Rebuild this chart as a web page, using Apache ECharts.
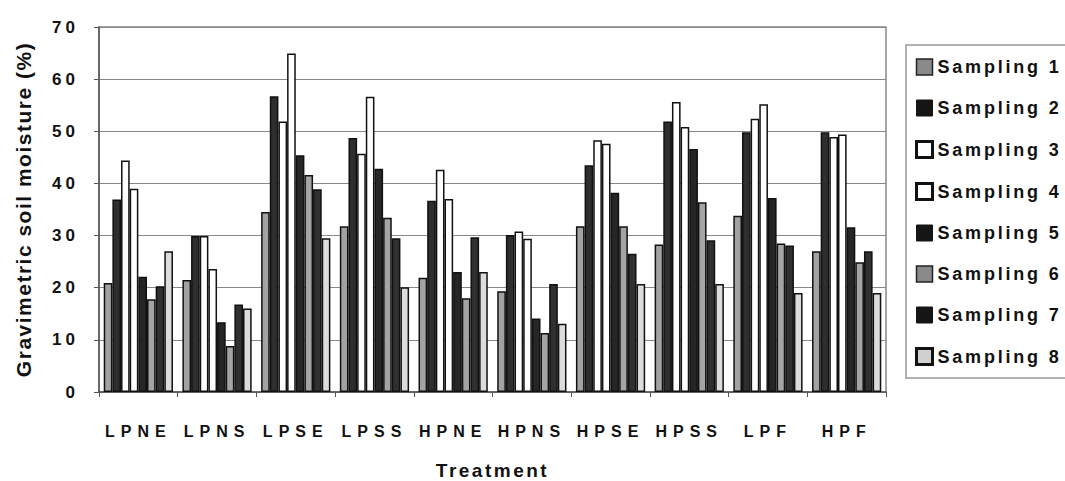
<!DOCTYPE html>
<html>
<head>
<meta charset="utf-8">
<script src="https://cdn.jsdelivr.net/npm/echarts@6/dist/echarts.min.js"></script>
<style>
html,body{margin:0;padding:0;background:#fff}
#c{width:1065px;height:481px}
#c svg text[style*="16px"]{letter-spacing:6px}
#c svg text[style*="17px"]{letter-spacing:4px}
#c svg text[style*="18px"]{letter-spacing:2.8px}
#c svg text[style*="19px"]{letter-spacing:2.5px}
#c svg text[style*="21px"]{letter-spacing:1.5px}
</style>
</head>
<body>
<div id="c"></div>
<script>
const categories = ['LPNE','LPNS','LPSE','LPSS','HPNE','HPNS','HPSE','HPSS','LPF','HPF'];
const seriesNames = ['Sampling 1','Sampling 2','Sampling 3','Sampling 4','Sampling 5','Sampling 6','Sampling 7','Sampling 8'];
const s1 = [20.9, 21.5, 34.5, 31.8, 21.9, 19.3, 31.8, 28.3, 33.8, 27.0];
const s2 = [36.9, 29.9, 56.7, 48.7, 36.7, 30.1, 43.5, 51.9, 49.8, 49.8];
const s3 = [44.4, 29.9, 51.9, 45.7, 42.6, 30.8, 48.3, 55.6, 52.4, 48.9];
const s4 = [39.0, 23.6, 64.9, 56.6, 37.0, 29.4, 47.6, 50.8, 55.2, 49.4];
const s5 = [22.1, 13.4, 45.4, 42.8, 23.0, 14.1, 38.2, 46.6, 37.2, 31.6];
const s6 = [17.8, 8.8, 41.6, 33.4, 18.0, 11.3, 31.8, 36.4, 28.5, 24.9];
const s7 = [20.3, 16.8, 38.9, 29.5, 29.7, 20.7, 26.5, 29.1, 28.1, 27.0];
const s8 = [27.0, 16.0, 29.5, 20.1, 23.0, 13.1, 20.7, 20.7, 19.0, 19.0];
const yTicks = [0,10,20,30,40,50,60,70];

const allData = [s1,s2,s3,s4,s5,s6,s7,s8];
const fills = ['#a2a2a2','#2e2e2e','#ffffff','#ffffff','#262626','#a4a4a4','#303030','#dcdcdc'];
const legendStyles = [
  {color:'#8a8a8a', borderColor:'#222', borderWidth:1.5},
  {color:'#151515', borderColor:'#151515', borderWidth:1},
  {color:'#fff', borderColor:'#111', borderWidth:3},
  {color:'#fff', borderColor:'#111', borderWidth:3},
  {color:'#151515', borderColor:'#151515', borderWidth:1},
  {color:'#8a8a8a', borderColor:'#222', borderWidth:1.5},
  {color:'#151515', borderColor:'#151515', borderWidth:1},
  {color:'#d0d0d0', borderColor:'#111', borderWidth:3}
];
const font = 'Liberation Sans, Arial, sans-serif';

const chart = echarts.init(document.getElementById('c'), null, {renderer:'svg'});
chart.setOption({
  animation: false,
  backgroundColor: '#fff',
  graphic: [{
    type: 'rect', z: 0,
    shape: {x: 906, y: 45, width: 220, height: 333},
    style: {fill: 'none', stroke: '#999', lineWidth: 1.5}
  }],
  grid: {left: 99, right: 179, top: 27, bottom: 89, outerBoundsMode: 'none', containLabel: false,
    show: true, borderColor: '#888', borderWidth: 1.5, backgroundColor: 'transparent'},
  legend: {
    orient: 'vertical', left: 915, top: 58,
    padding: 0,
    itemWidth: 16, itemHeight: 16, itemGap: 23,
    icon: 'rect',
    textStyle: {fontFamily: font, fontSize: 18, color: '#111', fontWeight: 'bold', lineHeight: 18},
    data: seriesNames.map((n,i) => ({name: n, itemStyle: legendStyles[i]}))
  },
  xAxis: {
    type: 'category', data: categories,
    name: 'Treatment', nameLocation: 'middle', nameGap: 69,
    nameTextStyle: {fontFamily: font, fontSize: 19, color: '#111', fontWeight: 'bold'},
    axisLine: {lineStyle: {color: '#555', width: 1.5}},
    axisTick: {show: true, length: 5, lineStyle: {color: '#555'}},
    axisLabel: {fontFamily: font, fontSize: 16, color: '#111', fontWeight: 'bold', margin: 31}
  },
  yAxis: {
    type: 'value', min: 0, max: 70, interval: 10,
    name: 'Gravimetric soil moisture (%)', nameLocation: 'middle', nameGap: 65,
    nameTextStyle: {fontFamily: font, fontSize: 21, color: '#111', fontWeight: 'bold'},
    axisLine: {show: true, lineStyle: {color: '#555', width: 1.5}},
    axisTick: {show: true, length: 5, lineStyle: {color: '#555'}},
    splitLine: {lineStyle: {color: '#888', width: 1.2}},
    axisLabel: {fontFamily: font, fontSize: 17, color: '#111', fontWeight: 'bold', margin: 20,
      formatter: v => yTicks.includes(v) ? String(v) : ''}
  },
  series: allData.map((d,i) => ({
    name: seriesNames[i], type: 'bar', data: d,
    barGap: '0%', barCategoryGap: '12%',
    itemStyle: {color: fills[i], borderColor: '#111', borderWidth: 1.5}
  }))
});
</script>
</body>
</html>
